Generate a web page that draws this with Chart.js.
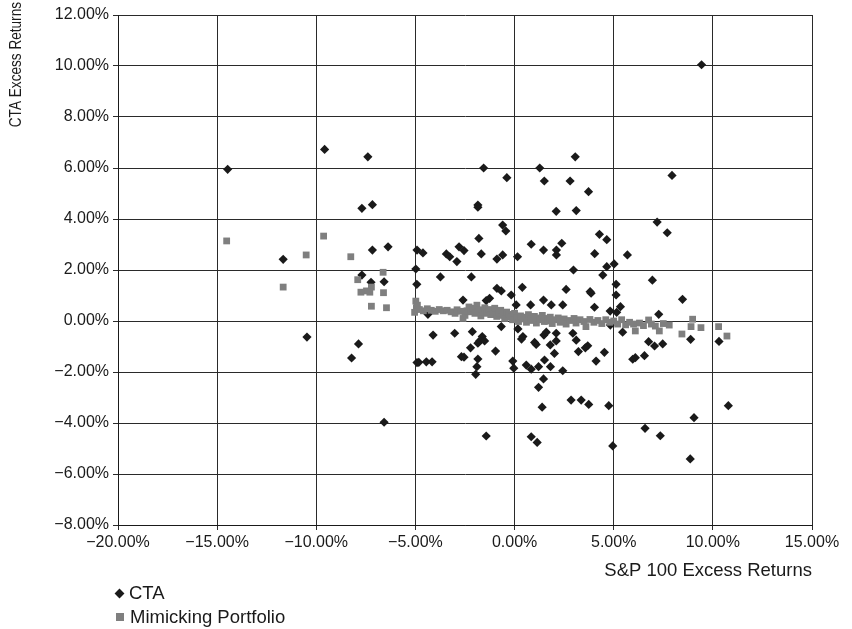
<!DOCTYPE html>
<html>
<head>
<meta charset="utf-8">
<script src="https://cdn.jsdelivr.net/npm/chart.js@4.4.1/dist/chart.umd.min.js"></script>
<style>
  html, body { margin: 0; padding: 0; background: #ffffff; }
  #wrap { position: relative; width: 852px; height: 629px; }
  #c { position: absolute; left: 0; top: 0; }
  .leg { position: absolute; left: 114px; font-family: "Liberation Sans", Arial, sans-serif; font-size: 18.5px; color: #1a1a1a; line-height: 20px; white-space: nowrap; }
  .mk { display: inline-block; vertical-align: middle; }
  .dia { width: 7px; height: 7px; background: #1a1a1a; transform: rotate(45deg); margin-left: 2px; margin-right: 6px; position: relative; top: -1px; }
  .sq { width: 8px; height: 8px; background: #7f7f7f; margin-left: 2px; margin-right: 6px; position: relative; top: -1px; }
</style>
</head>
<body>
<div id="wrap">
  <canvas id="c" width="852" height="629"></canvas>
  <div class="leg" style="top:583px;"><span class="mk dia"></span>CTA</div>
  <div class="leg" style="top:607px;"><span class="mk sq"></span>Mimicking Portfolio</div>
</div>
<script>
// S&P 100 excess returns (%) and CTA excess returns (%)
const ctaSP = [
  -14.47, -9.58, -7.40, -7.70, -7.17, -7.17, -6.38, -4.92, -11.67, -4.98,
  -7.70, -7.24, -6.58, -4.93, -10.47, -7.87, -8.22, -4.92, -6.58, -1.56,
  -0.39, 1.27, 3.06, 1.50, 2.80, 3.73, -1.85, -1.85, 2.10, 3.11,
  -0.60, -0.44, -1.80, 0.84, 2.38, 1.46, 2.11, 2.11, 4.28, 4.04,
  -4.62, -3.44, -3.27, -2.80, -2.55, -1.68, -0.60, 0.15, -0.89, -2.91,
  2.97, -3.74, -2.18, 0.39, -0.89, -0.67, 2.60, 3.81, -1.26, -1.43,
  -0.17, -2.60, 1.46, 1.85, 0.81, 2.43, 4.03, 0.08, -4.37, -0.67,
  0.17, -4.11, -3.02, -2.13, -1.63, -1.76, -1.51, -1.85, 0.42, 1.48,
  1.60, 2.10, 2.94, 1.01, 1.09, 0.35, 1.80, 2.10, 2.01, 3.11,
  3.69, 3.57, 3.22, 4.11, 1.51, 0.59, 0.84, 1.21, 1.81, 2.43,
  1.46, 1.21, 2.85, 3.36, 3.74, 1.39, -1.43, 0.84, 1.14, -2.22,
  -0.96, -2.68, -2.55, -1.85, -4.83, -4.45, -4.16, -1.90, -1.96, -0.09,
  -0.04, 7.94, 7.19, 7.70, 4.65, 5.69, 4.65, 5.02, 4.45, 6.95,
  5.12, 3.86, 5.12, 8.47, 5.34, 4.82, 5.15, 7.27, 4.83, 5.45,
  6.76, 7.06, 7.47, 8.88, 10.31, 4.53, 6.09, 5.96, 6.55, 4.75,
  10.78, 9.05, 6.58, 7.35, 4.95, 8.86, 9.43
];
const ctaExcess = [
  5.95, 6.73, 6.44, 4.42, 4.56, 2.78, 2.91, 2.78, 2.42, 2.04,
  1.80, 1.52, 1.54, 1.44, -0.63, -0.90, -1.45, -1.63, -3.97, 6.00,
  5.62, 6.00, 6.44, 5.49, 5.49, 5.07, 4.55, 4.46, 4.30, 4.33,
  3.76, 3.53, 3.24, 3.01, 3.05, 2.78, 2.78, 2.59, 3.40, 2.64,
  2.67, 2.63, 2.52, 2.91, 2.76, 2.63, 2.59, 2.52, 2.43, 2.33,
  2.00, 1.73, 1.73, 1.32, 1.28, 1.18, 1.24, 1.15, 0.89, 0.80,
  1.02, 0.82, 0.82, 0.63, 0.63, 0.63, 0.54, 0.63, 0.26, -0.22,
  -0.31, -0.55, -0.48, -0.42, -0.61, -0.78, -0.78, -0.87, -0.61, -0.55,
  -0.44, -0.48, -0.48, -0.84, -0.92, -0.71, -0.94, -0.78, -1.27, -0.75,
  -0.97, -1.05, -1.20, -1.57, -1.53, -1.73, -1.89, -1.79, -1.79, -1.95,
  -2.27, -2.60, -3.10, -3.10, -3.27, -3.38, -4.51, -4.54, -4.76, -1.05,
  -1.18, -1.40, -1.42, -1.49, -1.62, -1.60, -1.60, -1.79, -2.09, -1.57,
  -1.85, 5.71, 3.88, 3.46, 3.19, 2.59, 2.13, 2.24, 1.80, 1.60,
  1.44, 1.09, 1.02, 0.85, 0.56, 0.39, 0.34, 0.26, -0.16, -0.44,
  -0.81, -0.98, -0.90, -0.72, -0.80, -1.23, -1.44, -1.50, -1.36, -3.32,
  -3.32, -3.79, -4.21, -4.50, -4.90, -5.41, 10.05
];
const mimSP = [
  -14.52, -9.63, -10.51, -8.26, -11.67, -6.63, -7.91, -7.22, -7.47, -7.75,
  -7.30, -6.61, -7.22, -6.46, -4.98, -4.95, -5.04,
  -4.9, -4.8, -4.6, -4.4, -4.2, -4.0, -3.8, -3.6, -3.4, -3.2,
  -3.0, -2.9, -2.7, -2.6, -2.5, -2.4, -2.3, -2.2, -2.1, -2.0,
  -1.9, -1.8, -1.7, -1.6, -1.5, -1.4, -1.3, -1.2, -1.1, -1.0,
  -0.9, -0.8, -0.7, -0.6, -0.5, -0.4, -0.3, -0.2, -0.1, 0.0,
  0.1, 0.2, 0.3, 0.4, 0.5, 0.6, 0.7, 0.8, 0.9, 1.0,
  1.1, 1.2, 1.3, 1.4, 1.5, 1.6, 1.7, 1.8, 1.9, 2.0,
  2.2, 2.3, 2.5, 2.6, 2.8, 3.0, 3.1, 3.3, 3.5, 3.6,
  3.8, 4.0, 4.2, 4.4, 4.6, 4.8, 5.0, 5.2, 5.4, 5.6,
  5.8, 6.0, 6.09, 6.3, 6.5, 6.76, 6.9, 7.1, 7.30, 7.5,
  7.8, 8.44, 8.9, 8.98, 9.40, 10.29, 10.71
];
const mimExcess = [
  3.14, 3.33, 2.59, 2.52, 1.33, 1.91, 1.62, 1.33, 1.18, 1.13,
  1.13, 1.11, 0.58, 0.52, 0.78, 0.52, 0.34,
  0.62, 0.45, 0.40, 0.48, 0.42, 0.38, 0.45, 0.40, 0.42, 0.36,
  0.30, 0.44, 0.38, 0.10, 0.22, 0.40, 0.55, 0.36, 0.50, 0.30,
  0.62, 0.44, 0.20, 0.35, 0.52, 0.30, 0.45, 0.25, 0.38, 0.50,
  0.18, 0.32, 0.42, 0.22, 0.10, 0.35, 0.26, 0.15, 0.05, 0.30,
  0.12, -0.02, 0.20, 0.08, 0.15, -0.05, 0.25, 0.10, 0.02, 0.18,
  -0.08, 0.12, 0.05, 0.22, -0.02, 0.10, 0.00, 0.15, -0.10, 0.05,
  0.12, -0.05, 0.08, -0.12, 0.02, 0.10, -0.08, 0.05, -0.02, -0.22,
  0.06, -0.05, 0.02, -0.10, 0.05, -0.05, 0.00, -0.12, 0.05, -0.15,
  -0.05, -0.12, -0.39, -0.08, -0.18, 0.04, -0.12, -0.20, -0.39, -0.10,
  -0.16, -0.51, -0.22, 0.07, -0.26, -0.22, -0.59
];
const xTicks = [-20, -15, -10, -5, 0, 5, 10, 15];
const yTicks = [-8, -6, -4, -2, 0, 2, 4, 6, 8, 10, 12];
const seriesNames = ['CTA', 'Mimicking Portfolio'];
const xTitle = 'S&P 100 Excess Returns';
const yTitle = 'CTA Excess Returns';

const toPts = (xs, ys) => xs.map((x, i) => ({ x: x, y: ys[i] }));
const fmt = v => (v < 0 ? '\u2212' : '') + Math.abs(v).toFixed(2) + '%';
const FONT = '"Liberation Sans", Arial, sans-serif';

// y-axis title sits at the very top-left, reading upward
const yTitlePlugin = {
  id: 'yTitleTop',
  afterDraw(chart) {
    const ctx = chart.ctx;
    ctx.save();
    ctx.translate(16, 2);
    ctx.rotate(-Math.PI / 2);
    ctx.scale(0.8, 1);
    ctx.font = '17px ' + FONT;
    ctx.fillStyle = '#1a1a1a';
    ctx.textAlign = 'right';
    ctx.textBaseline = 'middle';
    ctx.fillText(yTitle, 0, 0);
    ctx.restore();
  }
};

new Chart(document.getElementById('c'), {
  type: 'scatter',
  data: {
    datasets: [
      { label: seriesNames[0], data: toPts(ctaSP, ctaExcess), pointStyle: 'rectRot', pointRadius: 4.6,
        pointHoverRadius: 4.6, backgroundColor: '#1a1a1a', borderWidth: 0, order: 2 },
      { label: seriesNames[1], data: toPts(mimSP, mimExcess), pointStyle: 'rect', pointRadius: 4.8,
        pointHoverRadius: 4.8, backgroundColor: '#7f7f7f', borderWidth: 0, order: 1 }
    ]
  },
  plugins: [yTitlePlugin],
  options: {
    responsive: false,
    animation: false,
    devicePixelRatio: 1,
    layout: { padding: { left: 0, right: 40, top: 15, bottom: 44 } },
    plugins: { legend: { display: false }, tooltip: { enabled: false } },
    scales: {
      x: {
        type: 'linear', min: xTicks[0], max: xTicks[xTicks.length - 1],
        afterBuildTicks: s => { s.ticks = xTicks.map(v => ({ value: v })); },
        afterFit: s => { s.height = 60; },
        grid: { color: '#2a2a2a', lineWidth: 1, tickLength: 5, drawTicks: true },
        border: { color: '#1a1a1a', width: 1 },
        ticks: { callback: v => fmt(v), color: '#1a1a1a', font: { family: FONT, size: 16 }, padding: 3, maxRotation: 0 },
        title: { display: true, text: xTitle, align: 'end', color: '#1a1a1a', font: { family: FONT, size: 18.5 }, padding: { top: 0, bottom: 3 } }
      },
      y: {
        type: 'linear', min: yTicks[0], max: yTicks[yTicks.length - 1],
        afterBuildTicks: s => { s.ticks = yTicks.map(v => ({ value: v })); },
        afterFit: s => { s.width = 118; },
        grid: { color: '#2a2a2a', lineWidth: 1, tickLength: 5, drawTicks: true },
        border: { color: '#1a1a1a', width: 1 },
        ticks: { callback: v => fmt(v), color: '#1a1a1a', font: { family: FONT, size: 16 }, padding: 4 },
        title: { display: false }
      }
    }
  }
});
</script>
</body>
</html>
